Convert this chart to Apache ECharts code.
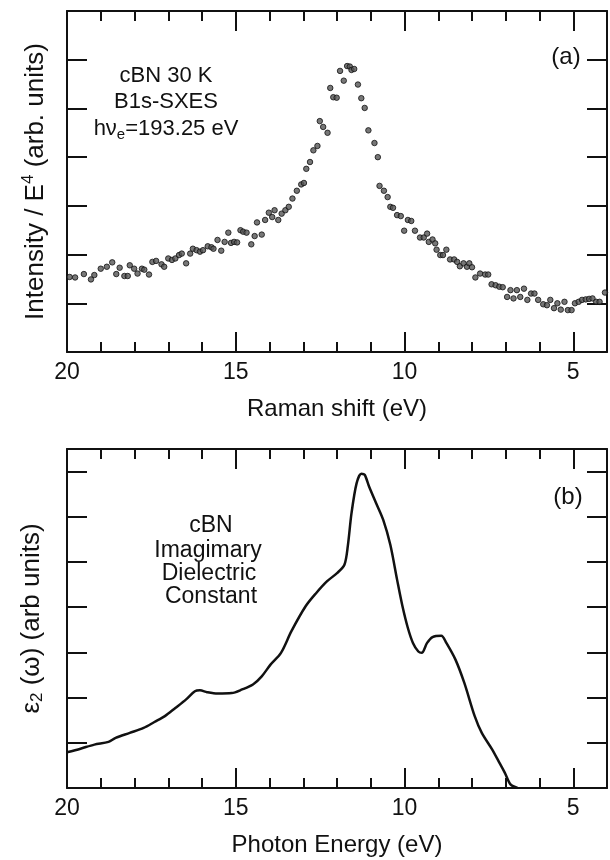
<!DOCTYPE html>
<html>
<head>
<meta charset="utf-8">
<script src="https://cdn.jsdelivr.net/npm/echarts@6/dist/echarts.min.js"></script>
<style>
html,body{margin:0;padding:0;background:#fff;}
#chart{width:610px;height:860px;}
</style>
</head>
<body>
<div id="chart"></div>
<script>
// ---- Panel (a): B1s-SXES scatter ----
const ramanShift = [19.92,19.76,19.50,19.29,19.19,19.00,18.82,18.66,18.54,18.44,18.30,18.20,18.14,18.01,17.91,17.78,17.71,17.57,17.47,17.36,17.20,17.12,17.00,16.89,16.79,16.68,16.60,16.47,16.35,16.27,16.16,16.06,15.97,15.83,15.72,15.66,15.54,15.43,15.33,15.22,15.14,15.05,14.96,14.86,14.78,14.68,14.54,14.44,14.37,14.23,14.13,14.02,13.92,13.85,13.74,13.64,13.53,13.43,13.32,13.19,13.06,12.98,12.91,12.80,12.70,12.58,12.51,12.41,12.28,12.20,12.11,12.01,11.91,11.80,11.70,11.62,11.57,11.49,11.38,11.28,11.18,11.07,10.89,10.79,10.74,10.61,10.50,10.42,10.34,10.22,10.11,10.01,9.90,9.80,9.69,9.54,9.43,9.33,9.28,9.17,9.09,9.05,8.94,8.86,8.76,8.65,8.53,8.44,8.36,8.25,8.15,8.08,8.00,7.90,7.76,7.61,7.52,7.42,7.30,7.19,7.09,6.96,6.86,6.77,6.67,6.57,6.46,6.36,6.25,6.15,6.04,5.89,5.78,5.68,5.57,5.47,5.37,5.26,5.16,5.05,4.95,4.84,4.74,4.63,4.53,4.43,4.32,4.22,4.06];
const intensity = [1.54,1.53,1.60,1.49,1.58,1.71,1.75,1.84,1.60,1.73,1.56,1.56,1.78,1.71,1.61,1.71,1.69,1.59,1.85,1.87,1.80,1.75,1.92,1.89,1.92,1.99,2.02,1.82,2.02,2.12,2.09,2.06,2.09,2.17,2.15,2.12,2.30,2.08,2.26,2.45,2.24,2.26,2.25,2.50,2.47,2.45,2.21,2.38,2.66,2.41,2.71,2.86,2.77,2.91,2.71,2.84,2.91,2.98,3.15,3.31,3.44,3.47,3.76,3.90,4.14,4.23,4.74,4.62,4.50,5.42,5.23,5.22,5.77,5.57,5.87,5.86,5.79,5.81,5.49,5.21,5.01,4.55,4.29,4.00,3.41,3.31,3.18,2.98,2.96,2.81,2.79,2.49,2.71,2.69,2.49,2.35,2.35,2.43,2.26,2.31,2.23,2.10,1.99,1.99,2.10,1.90,1.90,1.85,1.76,1.82,1.75,1.82,1.74,1.53,1.61,1.59,1.59,1.39,1.37,1.34,1.33,1.13,1.27,1.10,1.27,1.13,1.30,1.07,1.20,1.20,1.07,0.98,0.96,1.07,0.90,1.00,0.87,1.03,0.86,0.86,1.00,1.03,1.07,1.08,1.09,1.10,1.03,1.03,1.22];

// ---- Panel (b): imaginary dielectric constant ----
const photonEnergy = [20.00,19.60,19.19,18.77,18.56,18.14,17.73,17.41,17.10,16.79,16.47,16.21,16.06,15.85,15.54,15.12,14.81,14.49,14.23,13.97,13.66,13.35,12.93,12.62,12.30,11.99,11.78,11.68,11.57,11.42,11.28,11.18,11.05,10.84,10.63,10.42,10.22,10.06,9.90,9.75,9.59,9.49,9.33,9.17,8.91,8.76,8.49,8.23,7.92,7.71,7.40,7.19,7.03,6.86,6.65];
const eps2 = [0.79,0.87,0.96,1.02,1.11,1.22,1.33,1.46,1.59,1.77,1.96,2.14,2.16,2.12,2.09,2.10,2.18,2.29,2.47,2.73,2.99,3.47,4.02,4.31,4.57,4.76,4.94,5.35,6.08,6.74,6.95,6.93,6.67,6.30,5.93,5.38,4.61,4.02,3.54,3.21,3.02,2.99,3.21,3.34,3.37,3.21,2.84,2.33,1.59,1.22,0.85,0.56,0.34,0.08,0.0];

// ---- axis ticks / labels ----
const xMajorTicks = [5, 10, 15, 20];
const xRange = [4, 20];
const yRangeA = [0, 7];
const yRangeB = [0, 7.5];

const FONT = '"Liberation Sans", Arial, Helvetica, sans-serif';
const BLACK = '#111';

const grids = [
  {left: 67, right: 3, top: 11, height: 341},
  {left: 67, right: 3, top: 449, height: 339}
];

function xAxes(gi, name) {
  const base = {gridIndex: gi, type: 'value', min: xRange[0], max: xRange[1], inverse: true,
    splitLine: {show: false}};
  return [
    Object.assign({}, base, {
      position: 'bottom', name: name, nameLocation: 'middle', nameGap: 45,
      nameTextStyle: {fontFamily: FONT, fontSize: 24, color: BLACK},
      axisLine: {show: true, onZero: false, lineStyle: {color: BLACK, width: 2}},
      axisTick: {show: true, inside: true, length: 20, lineStyle: {color: BLACK, width: 2}, customValues: xMajorTicks},
      axisLabel: {show: true, margin: 9, fontFamily: FONT, fontSize: 23, color: BLACK, customValues: xMajorTicks}
    }),
    Object.assign({}, base, {
      position: 'bottom', interval: 1,
      axisLine: {show: false, onZero: false},
      axisTick: {show: true, inside: true, length: 10, lineStyle: {color: BLACK, width: 2}},
      axisLabel: {show: false}
    }),
    Object.assign({}, base, {
      position: 'top',
      axisLine: {show: true, onZero: false, lineStyle: {color: BLACK, width: 2}},
      axisTick: {show: true, inside: true, length: 20, lineStyle: {color: BLACK, width: 2}, customValues: xMajorTicks},
      axisLabel: {show: false}
    }),
    Object.assign({}, base, {
      position: 'top', interval: 1,
      axisLine: {show: false, onZero: false},
      axisTick: {show: true, inside: true, length: 10, lineStyle: {color: BLACK, width: 2}},
      axisLabel: {show: false}
    })
  ];
}

function yAxes(gi, range, name, gap) {
  const base = {gridIndex: gi, type: 'value', min: range[0], max: range[1], interval: 1,
    splitLine: {show: false}, axisLabel: {show: false},
    axisLine: {show: true, onZero: false, lineStyle: {color: BLACK, width: 2}},
    axisTick: {show: true, inside: true, length: 20, lineStyle: {color: BLACK, width: 2}}};
  return [
    Object.assign({}, base, {position: 'left', name: name, nameLocation: 'middle', nameGap: gap,
      nameTextStyle: {fontFamily: FONT, fontSize: 26, color: BLACK,
        rich: {sup: {fontFamily: FONT, fontSize: 17, color: BLACK, verticalAlign: 'top', padding: [0,0,14,0]},
               sub: {fontFamily: FONT, fontSize: 17, color: BLACK, verticalAlign: 'bottom', padding: [12,0,0,0]},
               n: {fontFamily: FONT, fontSize: 26, color: BLACK}}}}),
    Object.assign({}, base, {position: 'right'})
  ];
}

const xAxis = [].concat(xAxes(0, 'Raman shift (eV)'), xAxes(1, 'Photon Energy (eV)'));
const yAxis = [].concat(yAxes(0, yRangeA, '{n|Intensity / E}{sup|4}{n| (arb. units)}', 16),
                        yAxes(1, yRangeB, '{n|ε}{sub|2}{n| (ω) (arb units)}', 21));

const scatterData = ramanShift.map((x, i) => [x, intensity[i]]);
const lineData = photonEnergy.map((x, i) => [x, eps2[i]]);

const txt = (x, y, text, extra) => ({type: 'text', x: x, y: y,
  style: Object.assign({text: text, fontFamily: FONT, fontSize: 22, fill: BLACK, textAlign: 'center', textVerticalAlign: 'middle'}, extra || {})});

const option = {
  backgroundColor: '#fff',
  animation: false,
  grid: grids,
  xAxis: xAxis,
  yAxis: yAxis,
  series: [
    {type: 'scatter', xAxisIndex: 0, yAxisIndex: 0, data: scatterData, symbol: 'circle', symbolSize: 5.5,
     itemStyle: {color: '#555', borderColor: '#111', borderWidth: 1}},
    {type: 'line', xAxisIndex: 4, yAxisIndex: 2, data: lineData, showSymbol: false, smooth: 0.3,
     lineStyle: {color: BLACK, width: 2.5}}
  ],
  graphic: [
    txt(166, 76, 'cBN 30 K'),
    txt(166, 102, 'B1s-SXES'),
    {type: 'text', x: 166, y: 129, style: {
      text: '{n|hν}{s|e}{n|=193.25 eV}', fontFamily: FONT, fontSize: 22, fill: BLACK,
      textAlign: 'center', textVerticalAlign: 'middle',
      rich: {n: {fontFamily: FONT, fontSize: 22, fill: BLACK},
             s: {fontFamily: FONT, fontSize: 15, fill: BLACK, padding: [12,0,0,0]}}}},
    txt(566, 57, '(a)', {fontSize: 24}),
    txt(211, 526, 'cBN', {fontSize: 23}),
    txt(208, 551, 'Imagimary', {fontSize: 23}),
    txt(209, 574, 'Dielectric', {fontSize: 23}),
    txt(211, 597, 'Constant', {fontSize: 23}),
    txt(568, 497, '(b)', {fontSize: 24})
  ]
};

const chart = echarts.init(document.getElementById('chart'), null, {renderer: 'canvas'});
chart.setOption(option);
</script>
</body>
</html>
